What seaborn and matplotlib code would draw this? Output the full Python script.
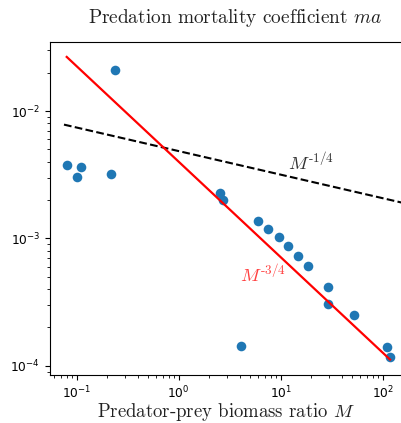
import numpy as np
import pandas as pd
import seaborn as sns
import matplotlib.pyplot as plt

plt.rcParams['mathtext.fontset'] = 'cm'

# predator-prey biomass ratio M and predation mortality coefficient ma
M = [0.0798, 0.100, 0.110, 0.218, 0.237, 2.54, 2.74, 4.11, 5.99, 7.56,
     9.56, 11.9, 14.9, 18.6, 29.3, 29.3, 52.3, 109, 118]
ma = [3.76e-3, 3.01e-3, 3.65e-3, 3.19e-3, 2.12e-2, 2.26e-3, 2.02e-3, 1.44e-4,
      1.37e-3, 1.19e-3, 1.02e-3, 8.66e-4, 7.22e-4, 6.06e-4, 4.13e-4, 3.05e-4,
      2.50e-4, 1.40e-4, 1.18e-4]

# power law references  ma = c * M**k
fit_c, fit_k = 4.0e-3, -0.75
ref_c, ref_k = 4.85e-3, -0.185
ref_M = [0.075, 200]

title = "Predation mortality coefficient $ma$"
xlabel = "Predator-prey biomass ratio $M$"

df = pd.DataFrame({"M": M, "ma": ma})
fit = pd.DataFrame({"M": np.sort(M)})
fit["ma"] = fit_c * fit["M"] ** fit_k
ref = pd.DataFrame({"M": ref_M})
ref["ma"] = ref_c * ref["M"] ** ref_k

fig = plt.figure(figsize=(4.01, 4.23), dpi=100)
ax = fig.add_axes([50 / 401, 48 / 423, 353 / 401, 333 / 423])

sns.lineplot(data=ref, x="M", y="ma", ax=ax, color="k", lw=1.5,
             linestyle="--", estimator=None)
sns.scatterplot(data=df, x="M", y="ma", ax=ax, color="#1f77b4", s=48,
                linewidth=0, zorder=3)
sns.lineplot(data=fit, x="M", y="ma", ax=ax, color="r", lw=1.6,
             estimator=None, zorder=4)

ax.set_xscale("log")
ax.set_yscale("log")
ax.set_xlim(0.0547, 158)
ax.set_ylim(8.45e-5, 0.0349)
ax.spines["right"].set_visible(False)
ax.tick_params(labelsize=8.8)

ax.text(11.8, 3.43e-3, r"$M^{\text{-}1/4}$", fontsize=13.5, color="k",
        alpha=0.8)
ax.text(3.99, 4.52e-4, r"$M^{\text{-}3/4}$", fontsize=13.5, color="r",
        alpha=0.75)

ax.set_title(title, family="cmr10", fontsize=13.9, color="#222222",
             x=0.524, pad=14)
ax.set_xlabel(xlabel, family="cmr10", fontsize=13.5, color="#222222",
              labelpad=-0.5)
ax.set_ylabel("")

fig.savefig("out.png", dpi=100)
